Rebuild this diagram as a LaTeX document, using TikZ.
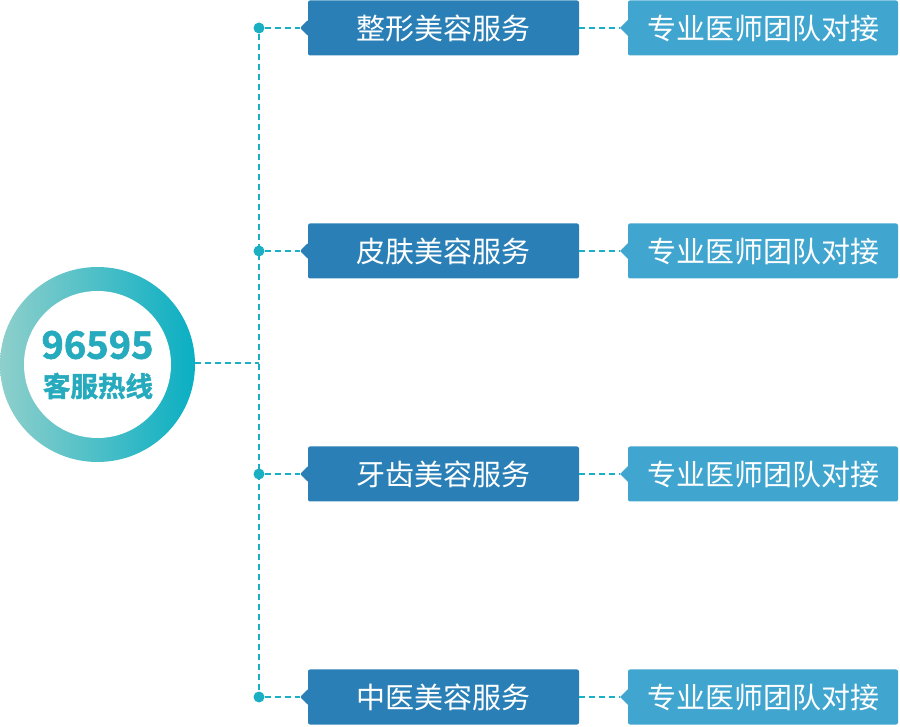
\documentclass[tikz,border=0pt]{standalone}
\usepackage{fontspec}
\setmainfont{Noto Sans CJK SC}
\newfontfamily\cjkb{Noto Sans CJK SC Bold}
\newfontfamily\cjkh{Noto Sans CJK SC Bold}[FakeBold=1.6]
\definecolor{midbox}{HTML}{2A80B6}
\definecolor{rightbox}{HTML}{41A6CF}
\definecolor{dashc}{HTML}{1AAFC2}
\definecolor{ringL}{HTML}{8ECFCB}
\definecolor{ringR}{HTML}{0AAFC3}
\definecolor{numc}{HTML}{26AABD}
\tikzset{
  x=1pt,y=1pt,
  midbox/.style={fill=midbox,rounded corners=2pt,minimum width=271pt,minimum height=55pt,inner sep=0pt,text=white,font=\fontsize{29}{32}\selectfont},
  rbox/.style={fill=rightbox,rounded corners=2pt,minimum width=270pt,minimum height=55pt,inner sep=0pt,text=white,font=\fontsize{29}{32}\selectfont},
  dashline/.style={draw=dashc,line width=2pt,dash pattern=on 6pt off 4pt},
  dotnode/.style={circle,fill=dashc,minimum size=11pt,inner sep=0pt},
}
\begin{document}
\begin{tikzpicture}
\useasboundingbox (0,0) rectangle (900,726);
% ring
\coordinate (cc) at (97.5,361.5);
\shade[left color=ringL,right color=ringR] (cc) circle (97.5);
\fill[white] (cc) circle (73.5);
\node[font=\cjkh\fontsize{38}{40}\selectfont,text=numc,inner sep=0pt] (num) at (97.5,381) {96595};
\node[font=\cjkh\fontsize{27.5}{30}\selectfont,text=numc,inner sep=0pt] (hot) at (98,340) {客服热线};
\coordinate (ringE) at (195,363);
\coordinate (junc) at (259,363);
% rows
\foreach \i/\y/\t in {1/698/整形美容服务,2/475/皮肤美容服务,3/252/牙齿美容服务,4/29/中医美容服务}{
  \node[midbox] (m\i) at (443.5,\y) {\t};
  \fill[midbox] (308.5,\y+8.5) -- (300,\y) -- (308.5,\y-8.5) -- cycle;
  \coordinate (mt\i) at (300,\y);
  \node[rbox] (r\i) at (763,\y) {专业医师团队对接};
  \fill[rightbox] (628.5,\y+8.5) -- (620,\y) -- (628.5,\y-8.5) -- cycle;
  \coordinate (rt\i) at (620,\y);
  \node[dotnode] (d\i) at (259,\y) {};
  \draw[dashline] (d\i) -- (mt\i);
  \draw[dashline] (m\i.east) -- (rt\i);
}
\draw[dashline] (d1) -- (d4);
\draw[dashline] (ringE) -- (junc);
\end{tikzpicture}
\end{document}
